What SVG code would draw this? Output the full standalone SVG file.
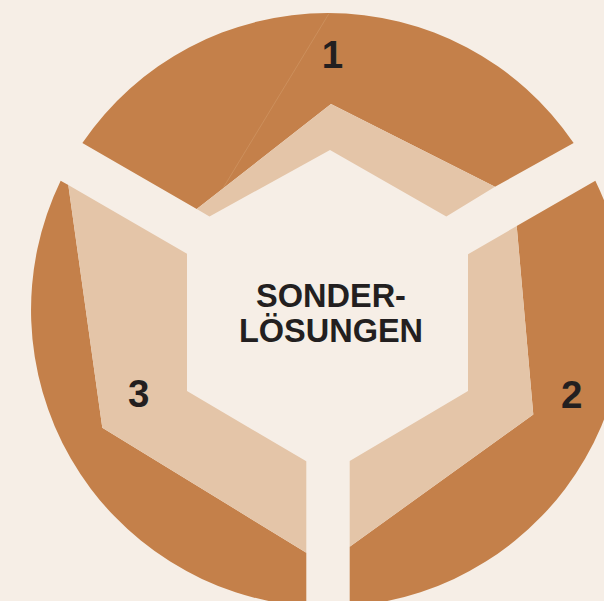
<svg xmlns="http://www.w3.org/2000/svg" width="604" height="601" viewBox="0 0 604 601">
  <style>
    .dark { fill: #C4804A; }
    .light { fill: #E4C5A8; }
    .seam { stroke: #D19868; stroke-width: 0.6; fill: none; }
    .title { font-family: "Liberation Sans", Arial, sans-serif; font-weight: bold; font-size: 32.5px; fill: #231F20; text-anchor: middle; }
    .num { font-family: "Liberation Sans", Arial, sans-serif; font-weight: bold; font-size: 38.5px; fill: #231F20; text-anchor: middle; }
  </style>
  <rect x="0" y="0" width="604" height="601" fill="#F6EEE6"/>

  <g id="segment-1">
    <path class="dark" d="M82.35,143.1 A297,297 0 0 1 573.65,143.1 L495,186.7 L331,104 L196.7,209 Z"/>
    <polygon class="light" points="196.7,209 331,104 495,186.7 446.3,216.6 330,150 209.5,216.5"/>
    <line class="seam" x1="329" y1="13.5" x2="223.3" y2="187.7"/>
    <text class="num" x="332.5" y="68.3">1</text>
  </g>

  <g id="segment-2">
    <path class="dark" d="M595.35,180.7 A297,297 0 0 1 349.7,606.2 L349.7,546.7 L533.3,414.5 L516.7,226 Z"/>
    <polygon class="light" points="516.7,226 533.3,414.5 349.7,546.7 349.7,461.1 468,391 468,254.2"/>
    <text class="num" x="571.7" y="407.6">2</text>
  </g>

  <g id="segment-3">
    <path class="dark" d="M306.3,606.2 A297,297 0 0 1 60.65,180.7 L68.3,185 L102.3,427.7 L306.3,552.7 Z"/>
    <polygon class="light" points="68.3,185 102.3,427.7 306.3,552.7 306.3,461.3 187,391 187,253.7"/>
    <text class="num" x="138.7" y="407.3">3</text>
  </g>

  <g id="center">
    <text class="title" x="331" y="306.7">SONDER-</text>
    <text class="title" x="331" y="341.7">LÖSUNGEN</text>
  </g>
</svg>
